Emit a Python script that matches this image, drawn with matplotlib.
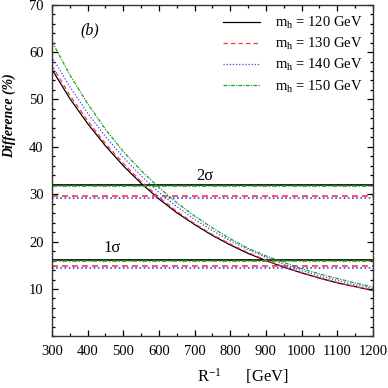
import matplotlib
matplotlib.use("Agg")
import matplotlib.pyplot as plt
from matplotlib.ticker import MultipleLocator

plt.rcParams["font.family"] = ["Liberation Serif", "DejaVu Serif"]
plt.rcParams["mathtext.fontset"] = "custom"
plt.rcParams["mathtext.rm"] = "Liberation Serif"
plt.rcParams["mathtext.it"] = "Liberation Serif:italic"

r_inv = [300, 350, 400, 450, 500, 550, 600, 650, 700, 750,
         800, 850, 900, 950, 1000, 1050, 1100, 1150, 1200]

diff_120 = [56.3, 50.2, 44.9, 40.2, 36.0, 32.3, 29.0, 26.1, 23.6, 21.3,
            19.3, 17.5, 16.0, 14.6, 13.4, 12.3, 11.3, 10.5, 9.7]
diff_130 = [57.1, 50.9, 45.5, 40.7, 36.5, 32.7, 29.4, 26.4, 23.8, 21.5,
            19.5, 17.7, 16.1, 14.7, 13.5, 12.4, 11.4, 10.5, 9.8]
diff_140 = [59.0, 52.7, 47.1, 42.2, 37.8, 33.9, 30.4, 27.4, 24.7, 22.3,
            20.2, 18.3, 16.7, 15.2, 13.9, 12.8, 11.8, 10.9, 10.1]
diff_150 = [62.2, 55.2, 49.1, 43.7, 39.0, 35.0, 31.4, 28.2, 25.4, 22.9,
            20.6, 18.6, 17.0, 15.6, 14.3, 13.2, 12.2, 11.3, 10.4]

masses = [120, 130, 140, 150]
sigma2 = [32.0, 29.7, 29.1, 31.8]
sigma1 = [16.2, 14.9, 14.5, 16.0]

colors = ["black", "#ff3535", "#4040ff", "#20a020"]
styles = ["-", (0, (3.5, 2.5)), (0, (1, 1.5)), (0, (3, 1, 1, 1))]

fig = plt.figure(figsize=(3.88, 3.88), dpi=100)
ax = fig.add_axes([0.134, 0.133, 0.827, 0.855])

curves = [diff_120, diff_130, diff_140, diff_150]
for m, y, s2, s1, c, ls in zip(masses, curves, sigma2, sigma1, colors, styles):
    ax.plot(r_inv, y, color=c, ls=ls, lw=0.9, label=r"m$_{\mathrm{h}}$ = %d GeV" % m)
    ax.hlines([s2, s1], r_inv[0], r_inv[-1], colors=c, linestyles=[ls], lw=1.2)

ax.text(730, 33.0, "2σ", fontsize=12, ha="center", va="baseline")
ax.text(468, 17.9, "1σ", fontsize=12, ha="center", va="baseline")
ax.text(406, 64.6, "(b)", fontsize=11.5, style="italic", ha="center", va="center")

ax.set_xlim(300, 1200)
ax.set_ylim(0, 70)
ax.xaxis.set_major_locator(MultipleLocator(100))
ax.xaxis.set_minor_locator(MultipleLocator(50))
ax.yaxis.set_minor_locator(MultipleLocator(2))
ax.set_yticks([10, 20, 30, 40, 50, 60, 70])
ax.tick_params(which="both", direction="in", top=True, right=True, labelsize=10.5, pad=6)
ax.tick_params(which="major", length=4.5, width=0.9)
ax.tick_params(which="minor", length=2.5, width=0.9)
for sp in ax.spines.values():
    sp.set_linewidth(1.0)
    sp.set_color("#333333")

ax.legend(loc="upper right", frameon=False, fontsize=10.5, handlelength=2.6,
          handletextpad=1.0, labelspacing=0.35, borderaxespad=0.3)

fig.text(197 / 388, 2 / 388, r"R$^{-1}$" + "      [GeV]", fontsize=12,
         ha="left", va="bottom")
fig.text(9 / 388, 1 - 116 / 388, "Difference (%)", fontsize=10, fontweight="bold",
         style="italic", rotation=90, ha="center", va="center")

fig.savefig("out.png", dpi=100)
